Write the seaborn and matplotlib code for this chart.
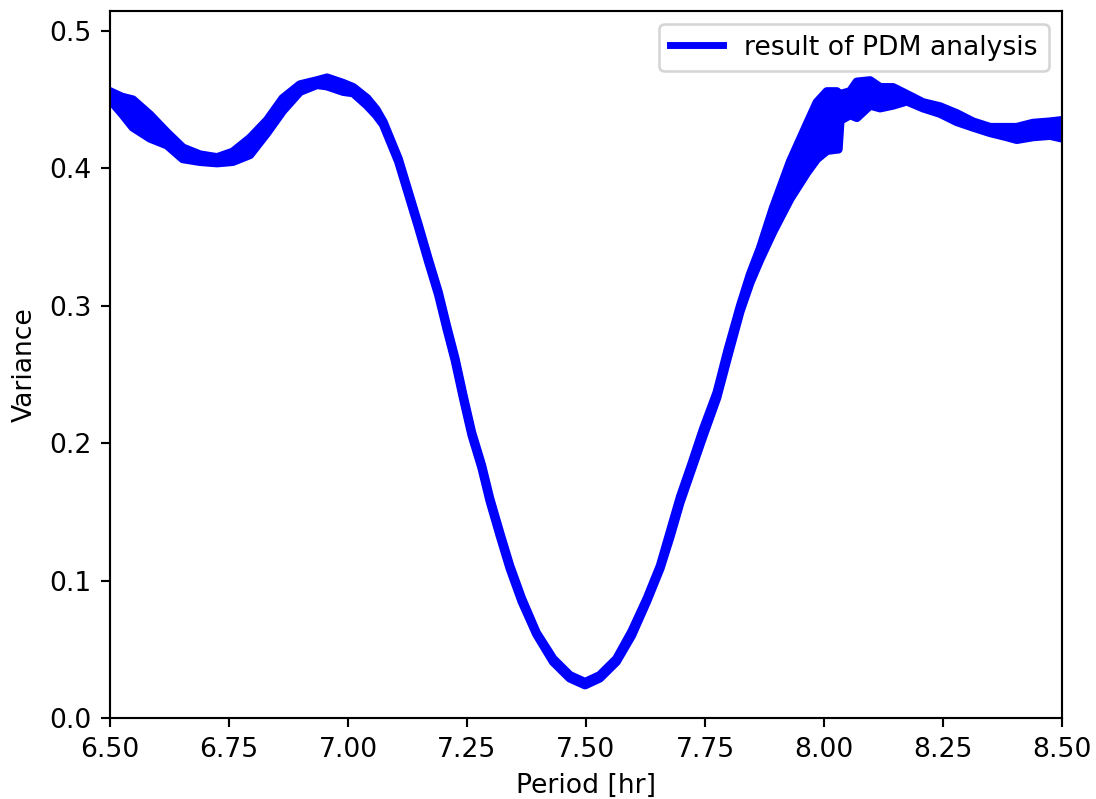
import matplotlib
matplotlib.use("Agg")
import matplotlib.pyplot as plt
import seaborn as sns
import numpy as np

# Trial period [hr] and the upper / lower edges of the noisy PDM variance curve
period = [6.500, 6.525, 6.548, 6.584, 6.620, 6.653, 6.689, 6.725, 6.758, 6.794,
          6.830, 6.863, 6.899, 6.935, 6.956, 6.990, 7.011, 7.040, 7.059, 7.074,
          7.106, 7.127, 7.148, 7.169, 7.190, 7.207, 7.225, 7.242, 7.260, 7.281,
          7.298, 7.319, 7.340, 7.365, 7.396, 7.431, 7.466, 7.498, 7.529, 7.564,
          7.596, 7.628, 7.656, 7.677, 7.698, 7.722, 7.746, 7.775, 7.798, 7.824,
          7.845, 7.866, 7.893, 7.929, 7.964, 7.985, 8.006, 8.027, 8.030, 8.034,
          8.055, 8.069, 8.097, 8.118, 8.145, 8.174, 8.208, 8.244, 8.279, 8.313,
          8.349, 8.384, 8.405, 8.439, 8.475, 8.500]

variance_upper = [0.456, 0.452, 0.450, 0.439, 0.426, 0.415, 0.410, 0.408, 0.412, 0.422,
                  0.435, 0.451, 0.461, 0.464, 0.466, 0.462, 0.459, 0.451, 0.443, 0.434,
                  0.407, 0.383, 0.359, 0.334, 0.310, 0.286, 0.262, 0.235, 0.208, 0.184,
                  0.160, 0.135, 0.111, 0.087, 0.062, 0.043, 0.031, 0.026, 0.031, 0.043,
                  0.063, 0.087, 0.111, 0.136, 0.161, 0.185, 0.210, 0.237, 0.268, 0.300,
                  0.323, 0.342, 0.371, 0.405, 0.432, 0.448, 0.456, 0.456, 0.454, 0.454,
                  0.456, 0.463, 0.464, 0.459, 0.459, 0.454, 0.448, 0.445, 0.440, 0.434,
                  0.430, 0.430, 0.430, 0.433, 0.434, 0.435]

variance_lower = [0.450, 0.440, 0.430, 0.422, 0.417, 0.407, 0.405, 0.404, 0.405, 0.410,
                  0.426, 0.442, 0.456, 0.461, 0.460, 0.456, 0.455, 0.446, 0.439, 0.432,
                  0.405, 0.381, 0.357, 0.332, 0.308, 0.284, 0.260, 0.233, 0.206, 0.182,
                  0.158, 0.133, 0.109, 0.085, 0.061, 0.041, 0.029, 0.024, 0.029, 0.041,
                  0.060, 0.085, 0.109, 0.132, 0.157, 0.181, 0.205, 0.233, 0.263, 0.296,
                  0.317, 0.334, 0.354, 0.378, 0.397, 0.407, 0.413, 0.414, 0.414, 0.435,
                  0.439, 0.437, 0.446, 0.444, 0.446, 0.449, 0.444, 0.440, 0.434, 0.430,
                  0.426, 0.423, 0.421, 0.423, 0.424, 0.422]

x_ticks = [6.50, 6.75, 7.00, 7.25, 7.50, 7.75, 8.00, 8.25, 8.50]
y_ticks = [0.0, 0.1, 0.2, 0.3, 0.4, 0.5]

W, H, DPI = 1096, 799, 192
fig = plt.figure(figsize=(W / DPI, H / DPI), dpi=DPI)
ax = fig.add_axes([110 / W, 81 / H, 952 / W, 707.5 / H])

ax.fill_between(period, variance_lower, variance_upper, color="blue", lw=0)
sns.lineplot(x=period, y=variance_upper, ax=ax, color="blue", lw=3.3,
             sort=False, estimator=None, label="result of PDM analysis")
sns.lineplot(x=period, y=variance_lower, ax=ax, color="blue", lw=3.3,
             sort=False, estimator=None)

ax.set_xlim(6.5, 8.5)
ax.set_ylim(0, 0.515)
ax.set_xticks(x_ticks)
ax.set_xticklabels([f"{t:.2f}" for t in x_ticks])
ax.set_yticks(y_ticks)
ax.set_yticklabels([f"{t:.1f}" for t in y_ticks])
ax.set_xlabel("Period [hr]")
ax.set_ylabel("Variance")
leg = ax.legend(loc="upper right")
for h in leg.get_lines():
    h.set_linewidth(2.6)

fig.savefig("out.png", dpi=DPI)
